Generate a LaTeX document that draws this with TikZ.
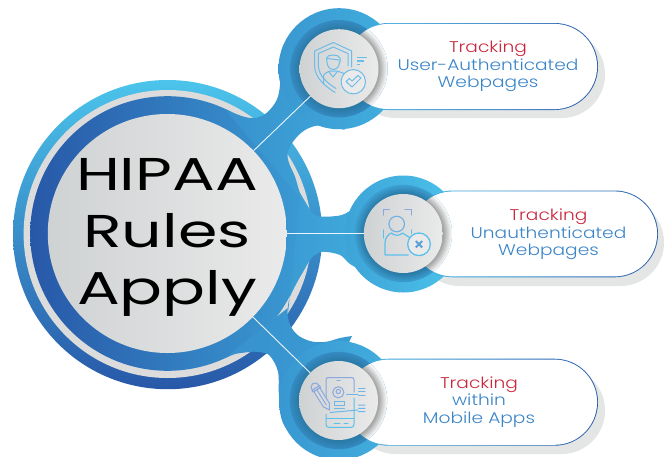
\documentclass[tikz,border=0pt]{standalone}
\usepackage{fontspec}
\usetikzlibrary{calc}
\newfontfamily\titlefont[FakeStretch=1.38]{Poppins}
\newfontfamily\labelfont[FakeStretch=1.2,UprightFont=* Light]{Poppins}
\definecolor{outerTop}{HTML}{4BC4EB}
\definecolor{outerMid}{HTML}{3A8FCB}
\definecolor{outerBot}{HTML}{2858A8}
\definecolor{ringL}{HTML}{2858A8}
\definecolor{ringR}{HTML}{3A9BD3}
\definecolor{ringGray}{HTML}{DCDCDC}
\definecolor{discL}{HTML}{CFD2D3}
\definecolor{discR}{HTML}{EAEAEA}
\definecolor{shadowGray}{HTML}{E4E6E6}
\definecolor{trackRed}{HTML}{C9283C}
\definecolor{labelBlue}{HTML}{3A85C8}
\definecolor{pillL}{HTML}{45B8E6}
\definecolor{pillR}{HTML}{2A5CAB}
\definecolor{iconA}{HTML}{6CBCEA}
\definecolor{iconB}{HTML}{8AA8DE}
\definecolor{iconC}{HTML}{5CC0EC}
\definecolor{iconD}{HTML}{5AA0D8}
\definecolor{haloDark}{HTML}{2A7AA6}
\definecolor{haloBaseA}{HTML}{358AC2}
\definecolor{haloBaseB}{HTML}{3C9FD2}
\definecolor{haloGrayDark}{HTML}{A4A6A6}
\pgfdeclareradialshading{haloblue}{\pgfpoint{0bp}{0bp}}{color(0bp)=(haloDark); color(20.5bp)=(haloDark); color(25bp)=(haloBaseA); color(50bp)=(haloBaseA)}
\pgfdeclareradialshading{halobright}{\pgfpoint{0bp}{0bp}}{color(0bp)=(haloDark); color(20.5bp)=(haloDark); color(25bp)=(haloBaseB); color(50bp)=(haloBaseB)}
\pgfdeclareradialshading{halogray}{\pgfpoint{0bp}{0bp}}{color(0bp)=(haloGrayDark); color(20.5bp)=(haloGrayDark); color(25bp)=(white); color(50bp)=(white)}
\tikzset{
  smalldisc/.style={circle,inner sep=0pt,outer sep=0pt,minimum size=79pt,left color=discL,right color=discR},
  maindisc/.style={circle,inner sep=0pt,outer sep=0pt,minimum size=239pt,left color=discL,right color=discR},
  spoke/.style={draw=white!85!iconA,line width=.9pt},
  halo/.style={shading=haloblue},
  halob/.style={shading=halobright},
  halog/.style={shading=halogray},
  pillshadow/.style={fill=shadowGray,rounded corners=43.4pt},
  pillrim/.style={left color=pillL,right color=pillR,rounded corners=43.4pt},
  pillface/.style={fill=white,rounded corners=42.6pt},
  icon/.style={draw=iconA,line width=1pt,line cap=round,line join=round},
  iconbar/.style={draw=iconA,line width=1.4pt},
  labeltext/.style={align=center,inner sep=0pt,font=\labelfont\fontsize{15.5}{17.3}\selectfont,text=labelBlue},
}
\newcommand{\tr}[1]{\textcolor{trackRed}{#1}}
\begin{document}
\begin{tikzpicture}[x=1pt,y=-1pt]
\useasboundingbox (0,0) rectangle (669,456);
\clip (0,0) rectangle (669,456);
\fill[white] (0,0) rectangle (669,456);
% pill shadows
\fill[pillshadow] (352,31) rectangle (605,118);
\fill[pillshadow] (416,199) rectangle (664,286);
\fill[pillshadow] (352,367) rectangle (605,454);
% main rings
\shade[top color=outerTop,middle color=outerMid,bottom color=outerBot] (167.6,234.6) circle (154.6);
\fill[ringGray] (167.6,234) circle (144);
\shade[left color=ringL,right color=ringR] (167.5,233.5) circle (137.3);
% necks
\shade[left color=ringR!85!ringL,right color=ringR!75!outerTop]
  plot[smooth,tension=.6] coordinates {(225,109) (235,113.5) (245,117) (253,118.2) (260,116.7) (268,111.7) (276.7,100) (280,85) (279,70)}
  -- plot[smooth,tension=.6] coordinates {(345,130) (322,125.2) (305,130) (293,141.7) (287.7,153) (289,163) (295,176.7) (300,193) (305,201.7) (310,210)} -- cycle;
\shade[left color=ringR,right color=ringR!60!outerTop]
  plot[smooth,tension=.6] coordinates {(300,193) (305,201.7) (310,210) (315,215) (321.7,216.7) (341.7,215) (355,206.7) (365,195)}
  -- plot[smooth,tension=.6] coordinates {(365,272) (350,264) (340,255) (323,251.7) (315,255) (310,260) (303,272) (296.7,283) (290,296.7) (287.7,308) (287.7,316.7)} -- cycle;
\shade[left color=ringR!85!ringL,right color=ringR]
  plot[smooth,tension=.6] coordinates {(287.7,308) (287.7,316.7) (291.7,328) (300,336.7) (313,341.7) (326.7,341.7) (340,338) (352,336)}
  -- plot[smooth,tension=.6] coordinates {(300,445) (283,423) (279,396.7) (278,371.7) (270,356) (262,352.5) (253,351.7) (245,352.5) (235,354) (225,358)} -- cycle;
% small outer discs
\shade[left color=ringR!95!ringL,right color=ringR!50!outerTop] (339,68.7) circle (60.5);
\shade[left color=ringR!80!outerTop,right color=outerTop] (403.3,234) circle (58.5);
\shade[left color=ringR!95!ringL,right color=ringR!50!outerTop] (338.5,400.5) circle (59.5);
% pills
\shade[pillrim] (345,23) rectangle (598,110);
\fill[pillface] (345.9,23.9) rectangle (597.1,109.1);
\shade[pillrim] (409.5,190.5) rectangle (658,277.3);
\fill[pillface] (410.4,191.4) rectangle (657.1,276.4);
\shade[pillrim] (345,358.7) rectangle (598,445.7);
\fill[pillface] (345.9,359.6) rectangle (597.1,444.8);
% halos
\shade[halo] (339,68.7) circle (48.7);
\begin{scope}\clip[rounded corners=42.6pt] (345.9,23.9) rectangle (597.1,109.1);\shade[halog] (339,68.7) circle (48.7);\end{scope}
\shade[halob] (403.3,233.5) circle (48.7);
\begin{scope}\clip[rounded corners=42.6pt] (410.4,191.4) rectangle (657.1,276.4);\shade[halog] (403.3,233.5) circle (48.7);\end{scope}
\shade[halo] (338.5,400.5) circle (48.7);
\begin{scope}\clip[rounded corners=42.6pt] (345.9,359.6) rectangle (597.1,444.8);\shade[halog] (338.5,400.5) circle (48.7);\end{scope}
% discs
\node[maindisc] (main) at (167.3,233.5) {};
\node[smalldisc] (c1) at (339,68.7) {};
\node[smalldisc] (c2) at (403.3,233.5) {};
\node[smalldisc] (c3) at (338.5,400.5) {};
\draw[spoke] (main) -- (c1);
\draw[spoke] (main) -- (c2);
\draw[spoke] (main) -- (c3);
% title
\node[align=center,inner sep=0pt,font=\titlefont\fontsize{46}{57}\selectfont,text=black] (title) at (167,237) {HIPAA\\Rules\\Apply};
% labels
\node[labeltext] (l1) at (488,66.5) {\tr{Tracking}\\User-Authenticated\\Webpages};
\node[labeltext] (l2) at (548.5,234.5) {\tr{Tracking}\\Unauthenticated\\Webpages};
\node[labeltext] (l3) at (479,402) {\tr{Tracking}\\within\\Mobile Apps};
% icon 1: shield with person and check
\draw[icon] (351.7,67) -- (351.7,51) -- (333.3,42.5) -- (314.5,51) -- (314.5,66) .. controls (315,78) and (325,86) .. (335,92.5);
\draw[icon] (348,66) -- (348,53.5) -- (333.3,47) -- (318.3,53.5) -- (318.3,66) .. controls (319,76) and (327,83) .. (336,88.5);
\draw[icon] (340,62) -- (340,58) .. controls (339,54) and (327,54) .. (326.5,58) -- (327,62) .. controls (327.5,72) and (339,72) .. (339.5,62);
\draw[icon] (327,58.5) -- (339.5,60);
\draw[icon] (323.5,84) -- (323.5,76) .. controls (324,73) and (328,72) .. (330,71) -- (337,71) .. controls (340,72) and (343,73) .. (345,74);
\draw[icon] (329,72) -- (333,77) -- (337,72);
\draw[iconbar] (356.7,57.7) -- (366.7,57.7) (356.7,61) -- (363.5,61) (356.7,64.3) -- (360,64.3);
\draw[icon,fill=discR] (353.3,81.7) circle (12.2);
\draw[icon] (346,81.5) -- (349.5,78.5) -- (352,81) -- (358,75.5) -- (361,78) -- (352,87) -- cycle;
% icon 2: face scan
\draw[icon,draw=iconB,line width=1.3pt] (383.3,215) -- (383.3,209.3) -- (389.3,209.3) (405,209.3) -- (411.7,209.3) -- (411.7,215);
\draw[icon,draw=iconB!60!iconC,line width=1.2pt] (396.7,224) circle (7.8);
\draw[icon,draw=iconC,line width=1.2pt] (383.3,230) -- (383.3,238) (411.7,230) -- (411.7,233.5);
\draw[icon,draw=iconC,line width=1.2pt] (408.3,255) -- (385,255) -- (385,243) .. controls (385,237) and (389,234) .. (391.5,233) .. controls (394,236) and (400,236) .. (402.5,233) -- (409.5,237.5);
\draw[icon,draw=iconC,fill=discR,line width=1.3pt] (419,244.3) circle (11.3);
\draw[draw=iconD,line width=2pt] (415.8,241.1) -- (422.2,247.5) (422.2,241.1) -- (415.8,247.5);
% icon 3: phone with pencil
\draw[icon,draw=iconB] (326,408) -- (326,380) .. controls (326,378) and (327,377.5) .. (329,377.5) -- (351,377.5) .. controls (353,377.5) and (354,378) .. (354,380) -- (354,392);
\draw[icon,draw=iconC] (354,398) -- (354,424) .. controls (354,426.5) and (353,427.3) .. (351,427.3) -- (329,427.3) .. controls (327,427.3) and (326,426.5) .. (326,424) -- (326,414);
\draw[icon,draw=iconC] (326,418) -- (354,418) (334,423) -- (340,423) (344,423) -- (348,423);
\draw[icon,draw=iconB,line width=1.2pt] (337,380.7) -- (340,380.7);
\draw[icon,draw=iconB] (338.3,392.3) circle (5.6) (338.3,391.5) circle (2.2);
\draw[icon,draw=iconB!50!iconC] (346.7,394.3) -- (358,394.3) (358.5,388.5) -- (365,388.5) (358.5,391.7) -- (365,391.7) (358.5,395) -- (365,395);
\draw[icon,draw=iconB!40!iconC] (334.3,401.3) rectangle (344.3,405.3) (334.3,408) -- (344.3,408);
\draw[icon,draw=iconB!30!iconC] (330,412.5) -- (358,410) (358.5,405) -- (365,405) (358.5,408.3) -- (365,408.3) (358.5,411.6) -- (365,411.6);
\begin{scope}[shift={(329.5,410)},x={(-.53pt,.848pt)},y={(.848pt,.53pt)}]
\draw[icon,draw=iconB,fill=discL!60!discR] (0,0) -- (6,-3.5) -- (24,-3.5) -- (24,3.5) -- (6,3.5) -- cycle;
\draw[icon,draw=iconB] (24,-4.5) -- (24,4.5) -- (26,4.5) (24,-4.5) -- (26,-4.5) (26,-4) .. controls (33,-4.5) and (33,4.5) .. (26,4) -- cycle (6,0) -- (24,0);
\end{scope}
\end{tikzpicture}
\end{document}
